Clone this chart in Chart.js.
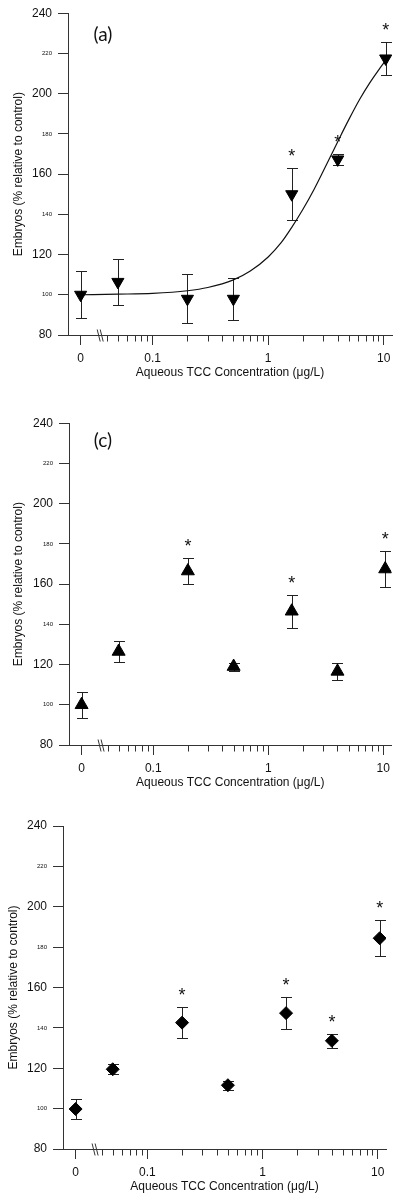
<!DOCTYPE html>
<html>
<head>
<meta charset="utf-8">
<script src="https://cdn.jsdelivr.net/npm/chart.js@4.4.0/dist/chart.umd.min.js"></script>
<style>
  body { margin: 0; background: #fff; }
  .panel { position: absolute; left: 0; width: 400px; }
</style>
</head>
<body>
<div class="panel" style="top:0px"><canvas id="chartA" width="400" height="400"></canvas></div>
<div class="panel" style="top:410px"><canvas id="chartC" width="400" height="400"></canvas></div>
<div class="panel" style="top:812px"><canvas id="chartE" width="400" height="389"></canvas></div>
<script>
// aqueous TCC concentrations (ug/L), 0 = control
const concentrations = [0, 0.05, 0.2, 0.5, 1.6, 4.0, 10.4];

// panel (a)
const embryosA = [100, 106.4, 98, 98, 150, 167.3, 217.5];
const errorA = [11.6, 11.5, 12.2, 10.5, 13, 2.8, 8];
const signifA = [false, false, false, false, true, true, true];
// fitted curve of panel (a)
const fitConcA = [0, 0.05, 0.1, 0.2, 0.3, 0.5, 0.7, 1.0, 1.3, 1.6, 2.0, 2.5, 3.0, 3.6, 4.2, 5.0, 6.2, 7.5, 9.0, 10.4];
const fitValueA = [100, 100.3, 100.7, 102, 103.6, 107.4, 111.8, 118.8, 126, 133.5, 142.5, 152.5, 161.5, 170.7, 178.6, 187.2, 197.2, 205, 211.6, 216.5];

// panel (c)
const embryosC = [100, 126.5, 166.5, 119, 146.5, 116.6, 167.5];
const errorC = [6.5, 5.2, 6.3, 2, 8.2, 4.3, 8.9];
const signifC = [false, false, true, false, true, false, true];

// panel (e)
const embryosE = [99.8, 119.5, 142.6, 111.6, 147.3, 133.6, 184.4];
const errorE = [4.8, 2.5, 7.8, 2.2, 7.9, 3.6, 8.9];
const signifE = [false, false, true, false, true, true, true];

// axes
const xTickValues = [0, 0.1, 1, 10];
const xTickLabels = ['0', '0.1', '1', '10'];
const xMinorTicks = [0.04, 0.05, 0.06, 0.07, 0.08, 0.09, 0.2, 0.3, 0.4, 0.5, 0.6, 0.7, 0.8, 0.9, 2, 3, 4, 5, 6, 7, 8, 9];
const yBigTicks = [80, 120, 160, 200, 240];

const ZERO_AT = 0.0238;   // where the control group sits on the log axis
const BREAK_AT = 0.0355;  // axis break mark
const toAxis = c => c === 0 ? ZERO_AT : c;

const FONT = "'Liberation Sans', Arial, sans-serif";
const AXIS_COLOR = '#333';
Chart.defaults.font.family = FONT;
Chart.defaults.color = '#111';

function panelExtras(mean, err, signif, label) {
    return {
        id: 'panelExtras',
        beforeDatasetsDraw(chart) {
            const { ctx, scales: { x, y } } = chart;
            ctx.save();
            ctx.strokeStyle = '#222';
            ctx.lineWidth = 1;
            concentrations.forEach((c, i) => {
                const px = Math.round(x.getPixelForValue(toAxis(c))) + 0.5;
                const top = Math.round(y.getPixelForValue(mean[i] + err[i])) + 0.5;
                const bot = Math.round(y.getPixelForValue(mean[i] - err[i])) + 0.5;
                ctx.beginPath();
                ctx.moveTo(px, top); ctx.lineTo(px, bot);
                ctx.moveTo(px - 5.5, top); ctx.lineTo(px + 5.5, top);
                ctx.moveTo(px - 5.5, bot); ctx.lineTo(px + 5.5, bot);
                ctx.stroke();
            });
            ctx.restore();
        },
        afterDatasetsDraw(chart) {
            const { ctx, scales: { x, y } } = chart;
            ctx.save();
            ctx.fillStyle = '#111';
            ctx.font = '18px ' + FONT;
            ctx.textAlign = 'center';
            ctx.textBaseline = 'alphabetic';
            concentrations.forEach((c, i) => {
                if (!signif[i]) return;
                const px = x.getPixelForValue(toAxis(c));
                const top = y.getPixelForValue(mean[i] + err[i]);
                ctx.fillText('*', px, top - 6);
            });
            ctx.restore();
        },
        afterDraw(chart) {
            const { ctx, chartArea, scales: { x } } = chart;
            const base = Math.round(chartArea.bottom) + 0.5;
            ctx.save();
            ctx.strokeStyle = AXIS_COLOR;
            ctx.lineWidth = 1;
            ctx.beginPath();
            xMinorTicks.forEach(v => {
                const px = Math.round(x.getPixelForValue(v)) + 0.5;
                ctx.moveTo(px, base);
                ctx.lineTo(px, base + 6);
            });
            ctx.stroke();
            // axis break
            const bx = x.getPixelForValue(BREAK_AT);
            ctx.beginPath();
            ctx.moveTo(bx - 3.5, base - 6); ctx.lineTo(bx - 0.5, base + 6);
            ctx.moveTo(bx - 0.5, base - 6); ctx.lineTo(bx + 2.5, base + 6);
            ctx.stroke();
            if (label) {
                ctx.fillStyle = '#111';
                ctx.font = '19px Lato, ' + FONT;
                ctx.textAlign = 'center';
                ctx.textBaseline = 'middle';
                ctx.fillText(label.text, chartArea.left + label.dx, chartArea.top + label.dy);
            }
            ctx.restore();
        }
    };
}

function makeChart(canvasId, p) {
    const datasets = [{
        data: concentrations.map((c, i) => ({ x: toAxis(c), y: p.mean[i] })),
        pointStyle: p.marker,
        rotation: p.rotation || 0,
        pointRadius: p.radius,
        backgroundColor: '#000',
        borderColor: '#000',
        borderWidth: 1,
        showLine: false
    }];
    if (p.fitConc) {
        datasets.push({
            data: p.fitConc.map((c, i) => ({ x: toAxis(c), y: p.fitValue[i] })),
            showLine: true,
            pointRadius: 0,
            borderColor: '#111',
            borderWidth: 1.2,
            cubicInterpolationMode: 'monotone',
            fill: false
        });
    }
    return new Chart(document.getElementById(canvasId), {
        type: 'scatter',
        data: { datasets: datasets },
        options: {
            responsive: false,
            animation: false,
            layout: { padding: p.padding },
            plugins: { legend: { display: false }, tooltip: { enabled: false } },
            scales: {
                x: {
                    type: 'logarithmic',
                    min: 0.0185,
                    max: 11.8,
                    afterBuildTicks: (scale) => {
                        scale.ticks = xTickValues.map(v => ({ value: toAxis(v) }));
                    },
                    afterFit: (scale) => { scale.height = 50; },
                    grid: { drawOnChartArea: false, tickLength: 10, color: AXIS_COLOR },
                    border: { color: AXIS_COLOR, width: 1 },
                    ticks: {
                        autoSkip: false,
                        maxRotation: 0,
                        padding: 6,
                        font: { size: 12 },
                        callback: (value, index) => xTickLabels[index]
                    },
                    title: {
                        display: true,
                        text: 'Aqueous TCC Concentration (\u03bcg/L)',
                        font: { size: 12 },
                        padding: { top: 0, bottom: 5 }
                    }
                },
                y: {
                    min: 80,
                    max: 240,
                    afterFit: (scale) => { scale.width = p.yWidth; },
                    grid: { drawOnChartArea: false, tickLength: 10, color: AXIS_COLOR },
                    border: { color: AXIS_COLOR, width: 1 },
                    ticks: {
                        stepSize: 20,
                        padding: 6,
                        font: (c) => ({ size: c.tick && yBigTicks.includes(c.tick.value) ? 12 : 6 })
                    },
                    title: {
                        display: true,
                        text: 'Embryos (% relative to control)',
                        font: { size: 12 },
                        padding: { top: p.titlePad, bottom: 0 }
                    }
                }
            }
        },
        plugins: [panelExtras(p.mean, p.err, p.signif, p.label)]
    });
}

makeChart('chartA', {
    mean: embryosA, err: errorA, signif: signifA,
    marker: 'triangle', rotation: 180, radius: 7,
    fitConc: fitConcA, fitValue: fitValueA,
    padding: { left: 0, right: 8, top: 13, bottom: 15 },
    yWidth: 68, titlePad: 11,
    label: { text: '(a)', dx: 35, dy: 22 }
});

makeChart('chartC', {
    mean: embryosC, err: errorC, signif: signifC,
    marker: 'triangle', radius: 7.5,
    padding: { left: 0, right: 8, top: 13, bottom: 15 },
    yWidth: 69, titlePad: 11,
    label: { text: '(c)', dx: 34, dy: 18 }
});

makeChart('chartE', {
    mean: embryosE, err: errorE, signif: signifE,
    marker: 'rectRot', radius: 6.5,
    padding: { left: 0, right: 14, top: 14, bottom: 2 },
    yWidth: 63, titlePad: 6,
    label: null
});
</script>
</body>
</html>
